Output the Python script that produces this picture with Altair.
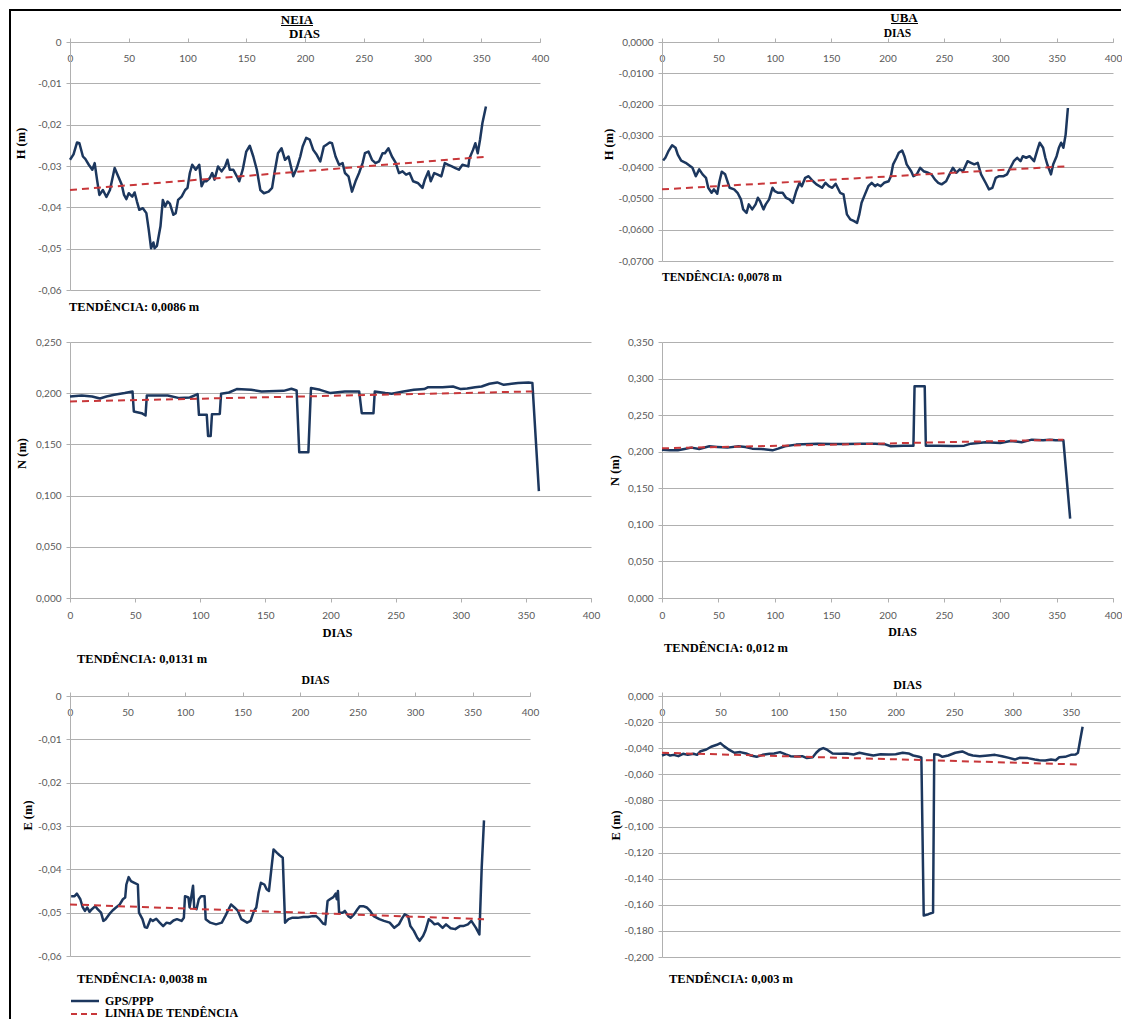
import altair as alt
import pandas as pd

# ------------------------------------------------------------------ data
X_TICKS = [0, 50, 100, 150, 200, 250, 300, 350, 400]
X_TICKS_E_UBA = [0, 50, 100, 150, 200, 250, 300, 350]

H_NEIA_TICKS = [0, -0.01, -0.02, -0.03, -0.04, -0.05, -0.06]
H_UBA_TICKS = [0, -0.01, -0.02, -0.03, -0.04, -0.05, -0.06, -0.07]
N_NEIA_TICKS = [0, 0.05, 0.10, 0.15, 0.20, 0.25]
N_UBA_TICKS = [0, 0.05, 0.10, 0.15, 0.20, 0.25, 0.30, 0.35]
E_NEIA_TICKS = [0, -0.01, -0.02, -0.03, -0.04, -0.05, -0.06]
E_UBA_TICKS = [0, -0.02, -0.04, -0.06, -0.08, -0.10, -0.12, -0.14, -0.16, -0.18, -0.20]

ESTACOES = ["NEIA", "UBA"]
TENDENCIAS = ["TENDÊNCIA: 0,0086 m", "TENDÊNCIA: 0,0078 m", "TENDÊNCIA: 0,0131 m",
              "TENDÊNCIA: 0,012 m", "TENDÊNCIA: 0,0038 m", "TENDÊNCIA: 0,003 m"]
LEGENDA = ["GPS/PPP", "LINHA DE TENDÊNCIA"]

# (dia, valor)
NEIA_H = [(0,-0.0285),(3,-0.0272),(6,-0.0243),(8,-0.0245),(11,-0.0277),(13,-0.0283),(16,-0.0297),
          (19,-0.0309),(21,-0.0293),(23,-0.0333),(25,-0.0370),(28,-0.0358),(31,-0.0375),(34,-0.0358),
          (38,-0.0305),(41,-0.0325),(44,-0.0345),(46,-0.0370),(48,-0.0380),(50,-0.0366),(53,-0.0374),
          (55,-0.0364),(57,-0.0386),(59,-0.0406),(62,-0.0402),(65,-0.0414),(67,-0.0454),(69,-0.0499),
          (71,-0.0485),(72,-0.0499),(74,-0.0493),(77,-0.0446),(79,-0.0382),(81,-0.0398),(83,-0.0386),
          (85,-0.0391),(88,-0.0418),(90,-0.0414),(92,-0.0382),(95,-0.0374),(98,-0.0358),(100,-0.0353),
          (102,-0.0317),(104,-0.0297),(107,-0.0309),(110,-0.0297),(112,-0.0349),(114,-0.0337),
          (116,-0.0337),(119,-0.0329),(121,-0.0317),(123,-0.0333),(126,-0.0301),(129,-0.0313),
          (132,-0.0301),(134,-0.0285),(136,-0.0309),(139,-0.0309),(142,-0.0325),(144,-0.0337),
          (147,-0.0309),(150,-0.0265),(153,-0.0251),(156,-0.0277),(159,-0.0309),(162,-0.0358),
          (165,-0.0366),(169,-0.0362),(172,-0.0353),(174,-0.0317),(177,-0.0269),(180,-0.0257),
          (183,-0.0285),(186,-0.0277),(188,-0.0301),(190,-0.0325),(193,-0.0305),(196,-0.0277),
          (198,-0.0253),(201,-0.0232),(204,-0.0236),(207,-0.0261),(210,-0.0273),(213,-0.0289),
          (216,-0.0253),(218,-0.0249),(221,-0.0243),(223,-0.0245),(226,-0.0277),(229,-0.0297),
          (232,-0.0293),(234,-0.0317),(237,-0.0325),(240,-0.0362),(243,-0.0337),(246,-0.0317),
          (249,-0.0293),(251,-0.0269),(254,-0.0265),(257,-0.0285),(260,-0.0293),(263,-0.0289),
          (266,-0.0269),(268,-0.0269),(271,-0.0257),(274,-0.0277),(277,-0.0291),(280,-0.0317),
          (283,-0.0313),(286,-0.0321),(289,-0.0317),(292,-0.0337),(296,-0.0341),(300,-0.0353),
          (302,-0.0333),(305,-0.0313),(307,-0.0337),(310,-0.0317),(313,-0.0321),(316,-0.0325),
          (319,-0.0293),(322,-0.0297),(325,-0.0301),(328,-0.0305),(331,-0.0309),(334,-0.0297),
          (339,-0.0301),(340,-0.0281),(343,-0.0261),(345,-0.0245),(347,-0.0269),(349,-0.0236),
          (351,-0.0196),(354,-0.0156)]
NEIA_H_T = [(0,-0.0358),(352,-0.0278)]

UBA_H = [(1,-0.0379),(3,-0.0370),(6,-0.0347),(9,-0.0330),(12,-0.0338),(14,-0.0360),(17,-0.0379),
         (21,-0.0386),(24,-0.0394),(27,-0.0402),(30,-0.0429),(33,-0.0407),(36,-0.0423),(39,-0.0434),
         (41,-0.0466),(44,-0.0482),(46,-0.0471),(49,-0.0485),(51,-0.0445),(53,-0.0415),(56,-0.0423),
         (58,-0.0445),(60,-0.0466),(64,-0.0471),(67,-0.0482),(70,-0.0503),(72,-0.0535),(75,-0.0546),
         (77,-0.0519),(80,-0.0535),(83,-0.0519),(85,-0.0498),(87,-0.0509),(90,-0.0535),(92,-0.0519),
         (95,-0.0503),(98,-0.0466),(100,-0.0477),(103,-0.0482),(107,-0.0482),(110,-0.0498),
         (113,-0.0503),(116,-0.0514),(119,-0.0477),(122,-0.0450),(124,-0.0461),(127,-0.0434),
         (130,-0.0429),(134,-0.0445),(137,-0.0455),(142,-0.0466),(145,-0.0450),(148,-0.0461),
         (151,-0.0466),(154,-0.0453),(158,-0.0482),(161,-0.0487),(164,-0.0551),(167,-0.0567),
         (170,-0.0572),(173,-0.0578),(175,-0.0551),(177,-0.0514),(180,-0.0487),(183,-0.0461),
         (186,-0.0450),(189,-0.0461),(191,-0.0455),(194,-0.0461),(197,-0.0450),(201,-0.0445),
         (203,-0.0429),(205,-0.0391),(208,-0.0370),(210,-0.0354),(213,-0.0347),(215,-0.0365),
         (217,-0.0391),(221,-0.0413),(223,-0.0429),(226,-0.0423),(229,-0.0402),(232,-0.0413),
         (236,-0.0418),(239,-0.0423),(242,-0.0439),(245,-0.0450),(248,-0.0455),(252,-0.0445),
         (255,-0.0423),(258,-0.0402),(261,-0.0418),(264,-0.0407),(267,-0.0413),(271,-0.0381),
         (274,-0.0386),(277,-0.0391),(280,-0.0386),(283,-0.0423),(287,-0.0450),(290,-0.0471),
         (293,-0.0466),(296,-0.0434),(299,-0.0429),(303,-0.0429),(306,-0.0423),(309,-0.0402),
         (312,-0.0381),(315,-0.0370),(318,-0.0381),(320,-0.0365),(323,-0.0370),(326,-0.0365),
         (330,-0.0381),(333,-0.0344),(335,-0.0322),(338,-0.0338),(340,-0.0370),(342,-0.0394),
         (345,-0.0423),(347,-0.0391),(350,-0.0365),(352,-0.0338),(354,-0.0322),(356,-0.0338),
         (358,-0.0296),(360,-0.0211)]
UBA_H_T = [(0,-0.0471),(360,-0.0397)]

NEIA_N = [(0,0.1968),(9,0.1978),(17,0.1968),(23,0.1948),(28,0.1968),(34,0.1984),(42,0.2001),
          (48,0.2017),(49,0.1821),(55,0.1805),(58,0.1782),(59,0.1978),(67,0.1978),(75,0.1978),
          (84,0.1952),(92,0.1958),(98,0.1991),(99,0.1789),(105,0.1789),(106,0.1583),(108,0.1583),
          (109,0.1795),(115,0.1798),(116,0.1994),(122,0.2007),(128,0.2040),(139,0.2033),
          (147,0.2017),(164,0.2023),(170,0.2043),(174,0.2027),(176,0.1423),(183,0.1423),
          (185,0.2050),(192,0.2033),(200,0.2001),(211,0.2017),(222,0.2017),(224,0.1805),
          (233,0.1805),(234,0.2017),(242,0.2001),(247,0.1994),(256,0.2017),(264,0.2033),
          (272,0.2040),(275,0.2059),(286,0.2059),(294,0.2066),(300,0.2040),(305,0.2046),
          (311,0.2059),(316,0.2066),(322,0.2092),(328,0.2105),(333,0.2082),(339,0.2092),
          (344,0.2099),(352,0.2105),(355,0.2099),(360,0.1044)]
NEIA_N_T = [(0,0.1919),(355,0.2017)]

UBA_N = [(0,0.2028),(7,0.2019),(14,0.2019),(20,0.2037),(26,0.2056),(33,0.2037),(42,0.2074),
         (49,0.2065),(58,0.2056),(68,0.2074),(74,0.2065),(80,0.2042),(88,0.2037),(98,0.2019),
         (103,0.2042),(109,0.2074),(119,0.2097),(125,0.2101),(138,0.2110),(150,0.2106),
         (163,0.2106),(176,0.2110),(189,0.2110),(198,0.2101),(203,0.2074),(214,0.2083),
         (223,0.2083),(224,0.2894),(233,0.2894),(234,0.2083),(246,0.2083),(258,0.2078),
         (268,0.2083),(274,0.2110),(287,0.2129),(300,0.2119),(309,0.2147),(319,0.2129),
         (328,0.2165),(338,0.2156),(344,0.2165),(349,0.2156),(356,0.2156),(362,0.1085)]
UBA_N_T = [(0,0.2047),(356,0.2165)]

NEIA_E = [(1,-0.0462),(4,-0.0462),(6,-0.0456),(9,-0.0469),(11,-0.0487),(13,-0.0496),(15,-0.0488),
          (17,-0.0498),(19,-0.0492),(22,-0.0485),(24,-0.0492),(27,-0.0500),(29,-0.0519),(31,-0.0515),
          (34,-0.0504),(37,-0.0495),(40,-0.0488),(43,-0.0482),(46,-0.0469),(48,-0.0465),(49,-0.0435),
          (51,-0.0418),(53,-0.0427),(56,-0.0431),(59,-0.0435),(60,-0.0500),(63,-0.0515),(65,-0.0533),
          (67,-0.0535),(70,-0.0515),(72,-0.0519),(75,-0.0514),(78,-0.0523),(81,-0.0531),(84,-0.0523),
          (87,-0.0525),(90,-0.0518),(93,-0.0515),(97,-0.0519),(99,-0.0512),(100,-0.0462),
          (103,-0.0465),(104,-0.0488),(107,-0.0438),(108,-0.0488),(110,-0.0492),(112,-0.0469),
          (114,-0.0462),(117,-0.0462),(118,-0.0515),(122,-0.0523),(127,-0.0527),(132,-0.0523),
          (135,-0.0508),(140,-0.0481),(143,-0.0488),(146,-0.0496),(149,-0.0515),(154,-0.0523),
          (157,-0.0519),(160,-0.0496),(162,-0.0488),(164,-0.0454),(166,-0.0431),(169,-0.0435),
          (171,-0.0446),(173,-0.0450),(175,-0.0402),(177,-0.0354),(180,-0.0362),(182,-0.0367),
          (185,-0.0373),(187,-0.0523),(190,-0.0515),(193,-0.0512),(198,-0.0512),(203,-0.0510),
          (207,-0.0510),(211,-0.0508),(214,-0.0508),(217,-0.0515),(220,-0.0525),(222,-0.0527),
          (224,-0.0473),(226,-0.0469),(229,-0.0464),(231,-0.0456),(232,-0.0469),(233,-0.0450),
          (234,-0.0500),(237,-0.0500),(239,-0.0496),(242,-0.0508),(244,-0.0512),(247,-0.0504),
          (250,-0.0492),(252,-0.0485),(255,-0.0485),(258,-0.0488),(261,-0.0496),(264,-0.0508),
          (269,-0.0515),(273,-0.0519),(278,-0.0523),(282,-0.0535),(286,-0.0527),(289,-0.0512),
          (291,-0.0504),(294,-0.0508),(296,-0.0531),(299,-0.0542),(302,-0.0558),(304,-0.0565),
          (307,-0.0554),(309,-0.0542),(312,-0.0515),(314,-0.0519),(317,-0.0527),(320,-0.0525),
          (324,-0.0535),(327,-0.0527),(331,-0.0536),(335,-0.0538),(339,-0.0531),(342,-0.0531),
          (346,-0.0527),(349,-0.0519),(351,-0.0527),(353,-0.0535),(356,-0.0550),(358,-0.0396),
          (360,-0.0287)]
NEIA_E_T = [(0,-0.0481),(360,-0.0515)]

UBA_E = [(0,-0.0456),(4,-0.0443),(7,-0.0456),(10,-0.0451),(14,-0.0461),(18,-0.0443),(22,-0.0451),
         (27,-0.0443),(30,-0.0451),(33,-0.0423),(38,-0.0410),(42,-0.0389),(47,-0.0374),(50,-0.0361),
         (53,-0.0384),(58,-0.0415),(62,-0.0435),(67,-0.0430),(72,-0.0440),(76,-0.0456),(81,-0.0466),
         (86,-0.0451),(92,-0.0443),(96,-0.0440),(101,-0.0430),(106,-0.0448),(110,-0.0461),
         (115,-0.0464),(120,-0.0461),(124,-0.0476),(129,-0.0469),(132,-0.0435),(135,-0.0410),
         (138,-0.0399),(141,-0.0410),(146,-0.0440),(152,-0.0443),(158,-0.0440),(164,-0.0448),
         (169,-0.0435),(175,-0.0446),(181,-0.0456),(187,-0.0446),(194,-0.0448),(200,-0.0446),
         (206,-0.0435),(211,-0.0440),(215,-0.0456),(220,-0.0466),(222,-0.0471),(224,-0.1682),
         (228,-0.1672),(232,-0.1659),(233,-0.0446),(237,-0.0451),(240,-0.0466),(245,-0.0456),
         (251,-0.0435),(257,-0.0425),(262,-0.0446),(266,-0.0456),(272,-0.0461),(279,-0.0456),
         (285,-0.0451),(291,-0.0461),(297,-0.0474),(302,-0.0487),(306,-0.0474),(313,-0.0476),
         (319,-0.0487),(323,-0.0492),(328,-0.0494),(333,-0.0487),(337,-0.0492),(340,-0.0469),
         (345,-0.0466),(350,-0.0451),(354,-0.0448),(356,-0.0435),(358,-0.0333),(360,-0.0236)]
UBA_E_T = [(0,-0.0435),(358,-0.0525)]

# ------------------------------------------------------------------ style
NAVY = "#1c375e"
RED = "#c8373a"
GRID = "#b0b0b0"
LBL = "#595959"
SANS = "Lato"
SERIF = "Liberation Serif"

one = pd.DataFrame({"k": [0]})


def vrule(x, y1, y2, color="black", width=2):
    return alt.Chart(one).mark_rule(color=color, strokeWidth=width, strokeCap="square").encode(
        x=alt.value(x), y=alt.value(y1), y2=alt.value(y2))


def hrule(x1, x2, y, color="black", width=2, dash=None, cap="square"):
    kw = dict(color=color, strokeWidth=width, strokeCap=cap)
    if dash:
        kw["strokeDash"] = dash
    return alt.Chart(one).mark_rule(**kw).encode(
        x=alt.value(x1), x2=alt.value(x2), y=alt.value(y))


def label(x, y, text, size, align="left"):
    return alt.Chart(one).mark_text(align=align, baseline="alphabetic", font=SERIF,
                                    fontWeight="bold", fontSize=size, color="black").encode(
        x=alt.value(x), y=alt.value(y), text=alt.value(text))


def ylabel_expr(dec, plain_zero):
    body = ("(datum.value < -1e-9 ? '-' : '') + "
            "replace(format(abs(datum.value), '.%df'), '.', ',')" % dec)
    if plain_zero:
        return "abs(datum.value) < 1e-9 ? '0' : " + body
    return body


def panel(serie, trend, yticks, dec, plain_zero, ytitle, w, h, top_axis,
          ytx, yty, xtx, xty, xts, extras, xmax=400, xticks=X_TICKS):
    df = pd.DataFrame(serie, columns=["dia", "valor"])
    dt = pd.DataFrame(trend, columns=["dia", "valor"])
    xs = alt.Scale(domain=[0, xmax], nice=False, zero=False)
    ys = alt.Scale(domain=[min(yticks), max(yticks)], nice=False, zero=False)
    xa_kw = dict(values=xticks, title="DIAS", titleX=xtx, titleY=xty,
                 titleBaseline="alphabetic", titleFontSize=xts, labelFlush=False,
                 labelOverlap=False, grid=False, tickSize=4)
    if top_axis:
        xa_kw.update(orient="top", labelBaseline="top", labelPadding=-15)
    else:
        xa_kw.update(orient="bottom", labelPadding=8)
    xa = alt.Axis(**xa_kw)
    ya = alt.Axis(values=yticks, labelExpr=ylabel_expr(dec, plain_zero), title=ytitle,
                  titleX=ytx, titleY=yty, titleBaseline="middle", labelFlush=False,
                  labelOverlap=False, grid=True, tickSize=4, labelPadding=5)
    enc = dict(x=alt.X("dia:Q", scale=xs, axis=xa), y=alt.Y("valor:Q", scale=ys, axis=ya))
    line = alt.Chart(df).mark_line(color=NAVY, strokeWidth=2.5, strokeJoin="round").encode(**enc)
    tr = alt.Chart(dt).mark_line(color=RED, strokeWidth=2, strokeDash=[7, 5]).encode(**enc)
    return alt.layer(line, tr, *extras).properties(width=w, height=h)


p_h_neia = panel(NEIA_H, NEIA_H_T, H_NEIA_TICKS, 2, True, "H (m)", 470, 248, True,
                 -50, 101, 234, -5, 13,
                 [hrule(-60, 530, -32), vrule(-60, -32, 274),
                  label(227, -18, ESTACOES[0], 13, "center"),
                  hrule(211, 243, -16.5, width=1, cap="butt"),
                  label(-1, 269, TENDENCIAS[0], 12.5)])

p_h_uba = panel(UBA_H, UBA_H_T, H_UBA_TICKS, 4, False, "H (m)", 451, 219, True,
                -54, 102, 235, -6, 11.5,
                [hrule(-60, 458, -32),
                 label(242, -20, ESTACOES[1], 13, "center"),
                 hrule(229, 256, -18.5, width=1, cap="butt"),
                 label(0, 239, TENDENCIAS[1], 11.5)])

p_n_neia = panel(NEIA_N, NEIA_N_T, N_NEIA_TICKS, 3, False, "N (m)", 521, 256, False,
                 -49, 111, 267, 38, 12.5,
                 [vrule(-60, -24, 327), label(7, 321, TENDENCIAS[2], 12.5)])

p_n_uba = panel(UBA_N, UBA_N_T, N_UBA_TICKS, 3, False, "N (m)", 451, 256, False,
                -48, 128, 240, 37, 12,
                [label(2, 310, TENDENCIAS[3], 12.5)])

p_e_neia = panel(NEIA_E, NEIA_E_T, E_NEIA_TICKS, 2, True, "E (m)", 460, 260, True,
                 -43, 119, 245, -13, 11.8,
                 [vrule(-60, -25, 322), label(7, 287, TENDENCIAS[4], 12.5),
                  hrule(1, 29, 305, color=NAVY, width=2.5, cap="butt"),
                  label(35, 309, LEGENDA[0], 12),
                  hrule(1, 29, 318, color=RED, width=2, dash=[6, 4], cap="butt"),
                  label(35, 321, LEGENDA[1], 12)])

p_e_uba = panel(UBA_E, UBA_E_T, E_UBA_TICKS, 3, False, "E (m)", 458, 261, True,
                -47, 129, 245, -8, 12,
                [label(7, 287, TENDENCIAS[5], 12.5)], xmax=392, xticks=X_TICKS_E_UBA)

chart = (
    alt.concat(p_h_neia, p_h_uba, p_n_neia, p_n_uba, p_e_neia, p_e_uba, columns=2, spacing=-2)
    .resolve_scale(x="independent", y="independent")
    .properties(padding=0, background="white")
    .configure_view(stroke=None)
    .configure_axis(labelFont=SANS, labelFontSize=10, labelColor=LBL, titleFont=SERIF,
                    titleFontWeight="bold", titleFontSize=12.5, titleColor="black",
                    domainColor=GRID, tickColor=GRID, gridColor=GRID,
                    domainWidth=1, gridWidth=1, tickWidth=1)
)

chart.save("out.html", embed_options={"renderer": "svg", "actions": False})
